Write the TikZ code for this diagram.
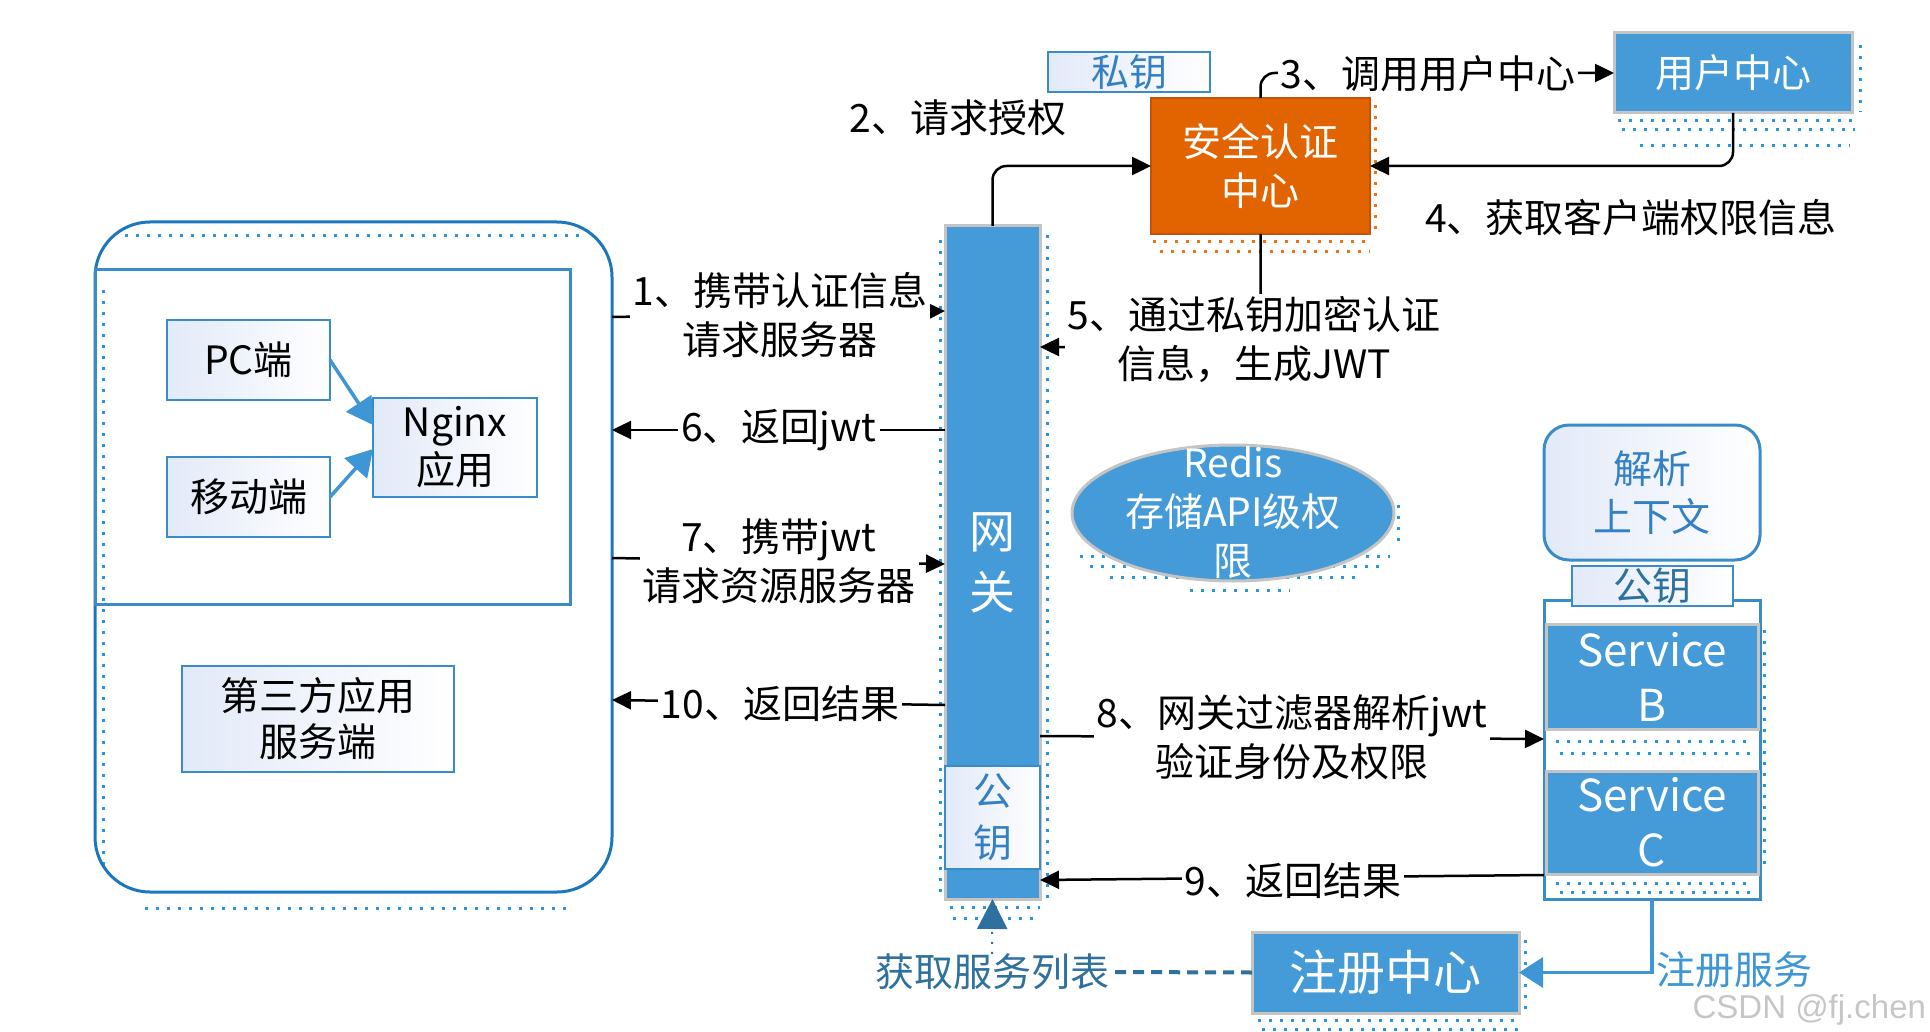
\documentclass[tikz,border=0pt]{standalone}
\usepackage{fontspec}
\setmainfont{Noto Sans CJK SC}
\newfontfamily\wmfont{Liberation Sans}
\usetikzlibrary{arrows.meta,shapes.geometric,calc}
\definecolor{bfill}{RGB}{68,155,216}
\definecolor{gborder}{RGB}{196,196,196}
\definecolor{bline}{RGB}{58,140,200}
\definecolor{bline2}{RGB}{62,150,214}
\definecolor{oblue}{RGB}{28,118,190}
\definecolor{ofill}{RGB}{226,100,0}
\definecolor{oline}{RGB}{196,84,10}
\definecolor{dblue}{RGB}{46,112,158}
\definecolor{dotb}{RGB}{40,150,220}
\definecolor{doto}{RGB}{240,110,20}
\definecolor{lav}{RGB}{226,233,248}
\definecolor{tblue}{RGB}{52,128,196}
\newcommand\fsL{\fontsize{39}{49}\selectfont}
\begin{document}
\begin{tikzpicture}[x=1pt,y=-1pt,
 every node/.style={inner sep=0pt, outer sep=0pt},
 blk/.style={rectangle, fill=bfill, draw=gborder, line width=3pt, text=white},
 wbox/.style={rectangle, draw=bline, line width=2.5pt, left color=lav, right color=white},
 conn/.style={line width=2.5pt, -{Triangle[length=19pt,width=18pt]}},
 lab/.style={font=\fsL, align=center, fill=white, inner sep=3pt},
 dotln/.style={draw=dotb, line width=3pt, dash pattern=on 3pt off 8pt},
]
\useasboundingbox (0,0) rectangle (1930,1032);

% ---------- shadow dots ----------
\draw[dotln] (125,236) -- (585,236);
\draw[dotln] (103,290) -- (103,870);
\draw[dotln] (145,908) -- (572,908);
\draw[dotln] (940,240) -- (940,895);
\draw[dotln] (1047,235) -- (1047,900);
\draw[dotln] (950,907) -- (1040,907);
\draw[dotln] (953,918) -- (1040,918);
\draw[dotln, draw=doto] (1153,242) -- (1370,242);
\draw[dotln, draw=doto] (1160,252) -- (1370,252);
\draw[dotln, draw=doto] (1375,105) -- (1375,232);
\draw[dotln] (1860,45) -- (1860,112);
\draw[dotln] (1618,121) -- (1855,121);
\draw[dotln] (1622,130) -- (1855,130);
\draw[dotln] (1640,146) -- (1850,146);
\draw[dotln] (1398,505) -- (1398,545);
\draw[dotln] (1080,556) -- (1390,556);
\draw[dotln] (1090,566) -- (1380,566);
\draw[dotln] (1110,577) -- (1355,577);
\draw[dotln] (1190,590) -- (1290,590);
\draw[dotln] (1764,630) -- (1764,870);
\draw[dotln] (1525,940) -- (1525,1010);
\draw[dotln] (1258,1020) -- (1518,1020);
\draw[dotln] (1262,1029) -- (1518,1029);

% ---------- left client area ----------
\node[draw=oblue, line width=3pt, rounded corners=55pt, minimum width=517pt, minimum height=670pt] (outer) at (353.5,557) {};
\node[draw=bline, line width=3pt, minimum width=475pt, minimum height=334pt] (inner) at (332.5,437) {};
\node[wbox, minimum width=163pt, minimum height=80pt, font=\fsL] (pc) at (248.5,360) {PC端};
\node[wbox, minimum width=163pt, minimum height=80pt, font=\fsL] (mob) at (248.5,497) {移动端};
\node[wbox, minimum width=164pt, minimum height=99pt, font=\fontsize{39}{48}\selectfont, align=center] (ng) at (455,447.5) {Nginx\\应用};
\node[wbox, minimum width=272pt, minimum height=106pt, font=\fontsize{39}{46}\selectfont, align=center] (tp) at (318,719) {第三方应用\\服务端};
\draw[line width=3.5pt, draw=bline2, -{Triangle[length=26pt,width=30pt]}] (pc.east) -- (ng.west |- 0,425);
\draw[line width=3.5pt, draw=bline2, -{Triangle[length=26pt,width=30pt]}] (mob.east) -- (ng.west |- 0,449);

% ---------- gateway ----------
\node[blk, minimum width=95pt, minimum height=673pt, font=\fontsize{46}{61}\selectfont, align=center] (gw) at (992.5,562.5) {网\\关};
\node[wbox, minimum width=95pt, minimum height=103pt, text=tblue, font=\fontsize{39}{52}\selectfont, align=center] (gwk) at (992.5,817.5) {公\\钥};

% ---------- auth / user ----------
\node[rectangle, fill=ofill, draw=oline, line width=2.5pt, minimum width=219pt, minimum height=136pt, text=white, font=\fsL, align=center] (sec) at (1260.5,166) {安全认证\\中心};
\node[wbox, minimum width=162pt, minimum height=40pt, text=tblue, font=\fontsize{38}{38}\selectfont] (pk) at (1129,72) {私钥};
\node[blk, minimum width=238pt, minimum height=80pt, font=\fsL] (uc) at (1733,73) {用户中心};

% ---------- redis ----------
\node[ellipse, fill=bfill, draw=gborder, line width=3pt, minimum width=322pt, minimum height=136pt] (redis) at (1233,513) {};
\node[text=white, font=\fsL, align=center] (redistext) at (1233,513) {Redis\\存储API级权\\限};

% ---------- services ----------
\node[draw=bline, line width=3pt, rounded corners=25pt, left color=lav, right color=white, minimum width=216pt, minimum height=135pt, text=tblue, font=\fontsize{39}{48}\selectfont, align=center] (parse) at (1652,492.5) {解析\\上下文};
\node[draw=bline, line width=3pt, minimum width=216pt, minimum height=299pt] (cont) at (1652,749.5) {};
\draw[dotln] (1556,741) -- (1752,741);
\draw[dotln] (1560,753) -- (1752,753);
\draw[dotln] (1556,883) -- (1752,883);
\draw[dotln] (1560,892) -- (1752,892);
\node[wbox, minimum width=161pt, minimum height=40pt, text=dblue, font=\fontsize{39}{39}\selectfont] (pk2) at (1652.5,586) {公钥};
\node[blk, minimum width=212pt, minimum height=105pt, font=\fontsize{44}{55}\selectfont, align=center] (sb) at (1652,676.5) {Service\\B};
\node[blk, minimum width=212pt, minimum height=103pt, font=\fontsize{44}{55}\selectfont, align=center] (sc) at (1652,822.5) {Service\\C};

% ---------- registry ----------
\node[blk, minimum width=267pt, minimum height=81pt, font=\fontsize{48}{48}\selectfont] (reg) at (1385.5,972.5) {注册中心};

% ---------- connectors ----------
\node[font=\fsL] (l2) at (958,118) {2、请求授权};
\draw[conn, rounded corners=14pt] (gw.north) |- (sec.west);
\draw[conn, rounded corners=14pt] (sec.north) |- (uc.west);
\node[lab] (l3) at (1428,74) {3、调用用户中心};
\draw[conn, rounded corners=14pt] (uc.south) |- (sec.east);
\node[font=\fsL] (l4) at (1631,218) {4、获取客户端权限信息};
\draw[conn, rounded corners=14pt] (sec.south) |- (gw.east |- 0,347);
\node[lab] (l5) at (1254,340) {5、通过私钥加密认证\\信息，生成JWT};

\draw[conn] (outer.east |- 0,317) -- (gw.west |- 0,311);
\node[lab] (l1) at (780,315) {1、携带认证信息\\请求服务器};
\draw[conn] (gw.west |- 0,430) -- (outer.east |- 0,430);
\node[lab] (l6) at (779,430) {6、返回jwt};
\draw[conn] (outer.east |- 0,558) -- (gw.west |- 0,564);
\node[lab] (l7) at (779,561) {7、携带jwt\\请求资源服务器};
\draw[conn] (gw.west |- 0,705) -- (outer.east |- 0,700);
\node[lab] (l10) at (780,704) {10、返回结果};

\draw[conn] (gw.east |- 0,736) -- (cont.west |- 0,739);
\node[lab] (l8) at (1292,737) {8、网关过滤器解析jwt\\验证身份及权限};
\draw[conn] (cont.west |- 0,875) -- (gw.east |- 0,880);
\node[lab] (l9) at (1293,881) {9、返回结果};

\draw[line width=3.5pt, draw=bline2, -{Triangle[length=24pt,width=30pt]}] (cont.south) |- (reg.east);
\node[anchor=west, text=bline2, font=\fsL] (lreg) at (1656,970) {注册服务};

\node[text=dblue, font=\fsL] (lst) at (992,972) {获取服务列表};
\draw[line width=4pt, draw=dblue, dash pattern=on 11pt off 7pt] (reg.west) -- (lst.east);
\draw[line width=2pt, draw=dblue, dash pattern=on 2pt off 8pt, -{Triangle[length=30pt,width=30pt]}] (lst.north) -- (gw.south);

\node[text=gray!45, font=\wmfont\fontsize{33}{33}\selectfont, anchor=east] (wm) at (1926,1010) {CSDN @fj.chen};
\end{tikzpicture}
\end{document}
